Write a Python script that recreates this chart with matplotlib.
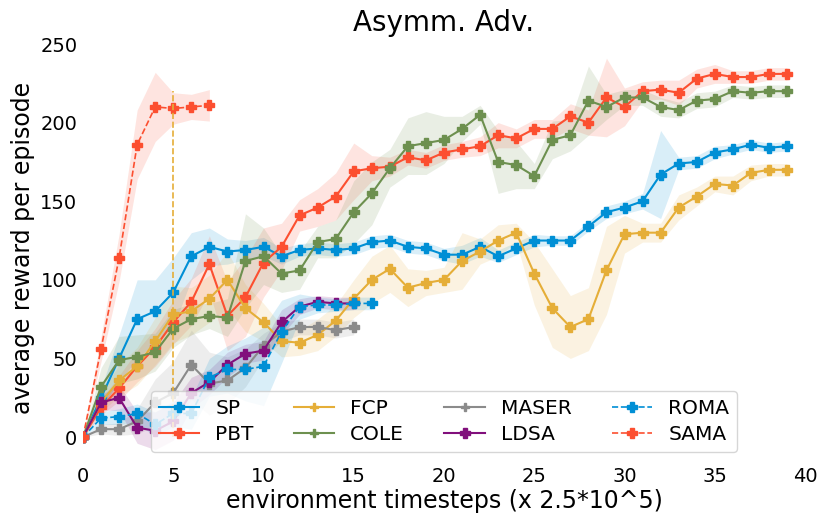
import matplotlib
matplotlib.use("Agg")
import matplotlib.pyplot as plt
import numpy as np

# values (mean, spread)
sp_mean = [0, 25, 50, 75, 80, 92, 115, 121, 118, 119, 121, 115, 119, 120, 119, 120, 124, 125, 121, 120,
           116, 116, 121, 115, 120, 125, 125, 125, 134, 143, 146, 150, 167, 174, 175, 181, 183, 186, 184, 185]
sp_std = [0, 6, 15, 25, 20, 22, 15, 12, 8, 6, 6, 5, 4, 4, 4, 4, 4, 4, 4, 4,
          4, 6, 6, 4, 4, 4, 3, 3, 3, 4, 4, 5, 28, 4, 4, 4, 3, 3, 3, 3]

pbt_mean = [0, 19, 31, 45, 57, 73, 86, 110, 77, 89, 111, 121, 141, 146, 153, 169, 171, 172, 178, 176,
            181, 183, 185, 192, 190, 196, 196, 204, 200, 216, 210, 220, 221, 219, 228, 231, 229, 229, 231, 231]
pbt_std = [0, 5, 8, 10, 12, 14, 15, 18, 22, 25, 22, 15, 10, 12, 15, 18, 8, 6, 5, 5,
           5, 5, 6, 8, 6, 6, 6, 8, 8, 25, 12, 6, 6, 8, 6, 6, 4, 4, 4, 4]

fcp_mean = [0, 22, 36, 45, 61, 78, 80, 88, 100, 82, 73, 61, 60, 65, 74, 88, 100, 107, 95, 98,
            100, 112, 118, 125, 130, 104, 82, 70, 75, 106, 129, 130, 130, 146, 153, 161, 160, 168, 170, 170]
fcp_std = [0, 6, 10, 12, 15, 18, 15, 15, 18, 15, 12, 10, 8, 10, 10, 12, 15, 15, 12, 8,
           8, 18, 8, 10, 6, 20, 25, 20, 20, 28, 12, 6, 6, 8, 6, 5, 6, 5, 4, 4]

cole_mean = [0, 32, 49, 51, 54, 69, 75, 77, 76, 112, 115, 104, 106, 124, 126, 143, 155, 171, 185, 187,
             189, 196, 205, 175, 173, 166, 189, 192, 214, 210, 216, 216, 210, 208, 214, 215, 220, 219, 220, 220]
cole_std = [0, 12, 15, 14, 12, 12, 10, 8, 12, 30, 18, 12, 12, 10, 12, 20, 20, 12, 18, 20,
            15, 8, 6, 20, 15, 8, 12, 10, 22, 8, 5, 5, 6, 5, 5, 5, 4, 4, 4, 4]

maser_mean = [0, 5, 5, 10, 22, 28, 46, 34, 36, 44, 58, 67, 70, 70, 68, 70]
maser_std = [0, 3, 4, 8, 15, 20, 22, 20, 15, 12, 8, 6, 5, 5, 5, 5]

ldsa_mean = [0, 22, 25, 6, 4, 10, 28, 35, 46, 53, 55, 73, 83, 86, 85, 85]
ldsa_std = [0, 5, 8, 10, 12, 12, 10, 8, 8, 6, 6, 8, 5, 4, 4, 4]

roma_mean = [0, 12, 13, 15, 8, 15, 15, 38, 43, 43, 45, 67, 83, 84, 84, 85, 85]
roma_std = [0, 4, 5, 6, 8, 8, 10, 12, 15, 20, 25, 20, 8, 5, 4, 4, 4]

sama_mean = [0, 56, 114, 186, 210, 209, 210, 211]
sama_std = [0, 8, 15, 22, 22, 10, 8, 10]

names = ["SP", "PBT", "FCP", "COLE", "MASER", "LDSA", "ROMA", "SAMA"]
means = [sp_mean, pbt_mean, fcp_mean, cole_mean, maser_mean, ldsa_mean, roma_mean, sama_mean]
stds = [sp_std, pbt_std, fcp_std, cole_std, maser_std, ldsa_std, roma_std, sama_std]
colors = ["#008fd5", "#fc4f30", "#e5ae38", "#6d904f", "#8b8b8b", "#810f7c", "#008fd5", "#fc4f30"]
styles = ["-", "-", "-", "-", "-", "-", "--", "--"]

fig = plt.figure(figsize=(8.3, 5.27), dpi=100)
ax = fig.add_axes([0.1, 0.1349, 0.8699, 0.7905])

for name, m, s, c, ls in zip(names, means, stds, colors, styles):
    m = np.array(m, dtype=float)
    s = np.array(s, dtype=float)
    x = np.arange(len(m))
    ax.fill_between(x, m - s, m + s, color=c, alpha=0.15, linewidth=0)
    ax.plot(x, m, ls, color=c, marker="P", markersize=7.5, linewidth=1.5 if ls == "-" else 1.2,
            label=name)

# marker line at x=5
ax.vlines(5, 0, 220, colors="#e5ae38", linestyles="--", linewidth=1.2)

ax.set_xlim(0, 40)
ax.set_ylim(-12, 253)
ax.set_xticks(range(0, 41, 5))
ax.set_yticks(range(0, 251, 50))
for sp in ax.spines.values():
    sp.set_visible(False)
ax.tick_params(axis="both", length=0, labelsize=14)
ax.tick_params(axis="x", pad=8)
ax.tick_params(axis="y", pad=4)

ax.set_title("Asymm. Adv.", fontsize=20)
ax.set_xlabel("environment timesteps (x 2.5*10^5)", fontsize=17, labelpad=2)
ax.set_ylabel("average reward per episode", fontsize=17)

leg = ax.legend(ncol=4, loc="lower center", bbox_to_anchor=(0.5, 0.01), borderaxespad=0,
                fontsize=14.5, labelspacing=0.35)
# FCP, COLE and MASER show smaller markers in the legend
for h in leg.get_lines()[2:5]:
    h.set_markersize(5.5)

fig.savefig("out.png", dpi=100)
